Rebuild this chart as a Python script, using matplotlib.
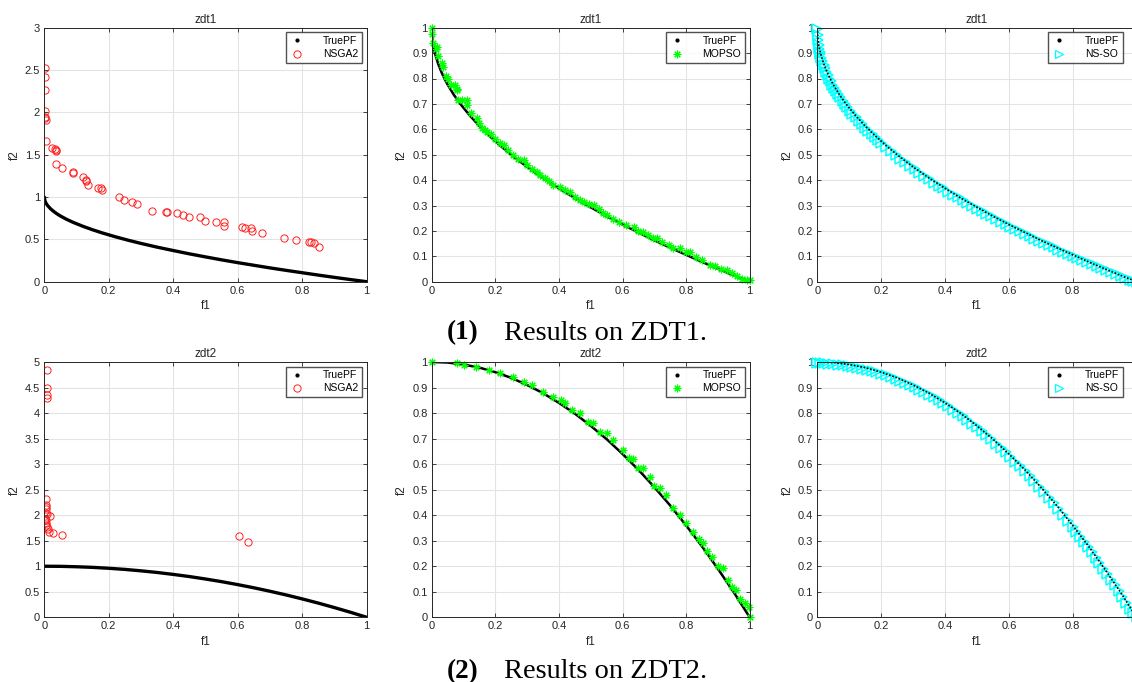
import matplotlib
matplotlib.use("Agg")
import matplotlib.pyplot as plt
from matplotlib.lines import Line2D

plt.rcParams["font.family"] = ["Liberation Sans", "DejaVu Sans"]

# ---------------- data ----------------
# True Pareto fronts
pf1_f1 = [0, 0.002, 0.005, 0.01, 0.02, 0.03, 0.04, 0.05, 0.07, 0.09, 0.12, 0.15, 0.18, 0.22,
          0.26, 0.3, 0.35, 0.4, 0.45, 0.5, 0.55, 0.6, 0.65, 0.7, 0.75, 0.8, 0.85, 0.9, 0.95, 1.0]
pf1_f2 = [1.0, 0.955, 0.929, 0.9, 0.859, 0.827, 0.8, 0.776, 0.735, 0.7, 0.654, 0.613, 0.576, 0.531,
          0.49, 0.452, 0.408, 0.368, 0.329, 0.293, 0.258, 0.225, 0.194, 0.163, 0.134, 0.106, 0.078, 0.051, 0.025, 0.0]
pf2_f1 = [0, 0.05, 0.1, 0.15, 0.2, 0.25, 0.3, 0.35, 0.4, 0.45, 0.5, 0.55, 0.6, 0.65, 0.7,
          0.75, 0.8, 0.85, 0.9, 0.95, 1.0]
pf2_f2 = [1.0, 0.998, 0.99, 0.978, 0.96, 0.938, 0.91, 0.878, 0.84, 0.798, 0.75, 0.698, 0.64,
          0.578, 0.51, 0.438, 0.36, 0.278, 0.19, 0.098, 0.0]

# NSGA2 on ZDT1
nsga_z1_f1 = [0.002, 0.002, 0.002, 0.002, 0.003, 0.003, 0.004, 0.004, 0.025, 0.033, 0.036, 0.037,
              0.037, 0.056, 0.09, 0.09, 0.12, 0.128, 0.13, 0.137, 0.168, 0.177, 0.178, 0.231, 0.246,
              0.273, 0.286, 0.333, 0.378, 0.381, 0.413, 0.43, 0.45, 0.484, 0.498, 0.534, 0.557, 0.557,
              0.612, 0.622, 0.642, 0.643, 0.676, 0.745, 0.78, 0.822, 0.826, 0.836, 0.852]
nsga_z1_f2 = [2.52, 2.42, 2.27, 2.02, 1.95, 1.93, 1.91, 1.66, 1.58, 1.57, 1.55, 1.54,
              1.39, 1.34, 1.29, 1.28, 1.24, 1.20, 1.19, 1.14, 1.11, 1.11, 1.08, 1.00, 0.96,
              0.94, 0.92, 0.84, 0.82, 0.82, 0.81, 0.79, 0.77, 0.77, 0.72, 0.71, 0.70, 0.66,
              0.65, 0.64, 0.63, 0.60, 0.57, 0.52, 0.49, 0.47, 0.47, 0.46, 0.41]

# NSGA2 on ZDT2
nsga_z2_f1 = [0.009, 0.009, 0.009, 0.009, 0.004, 0.004, 0.006, 0.005, 0.004, 0.008, 0.017,
              0.003, 0.005, 0.004, 0.006, 0.007, 0.010, 0.015, 0.028, 0.056, 0.604, 0.633]
nsga_z2_f2 = [4.84, 4.49, 4.35, 4.29, 2.31, 2.19, 2.16, 2.12, 2.05, 2.02, 1.98,
              1.93, 1.90, 1.85, 1.80, 1.76, 1.73, 1.68, 1.65, 1.62, 1.59, 1.48]

# MOPSO on ZDT1
mopso_z1_f1 = [0.0, 0.002, 0.005, 0.012, 0.016, 0.02, 0.031, 0.035, 0.045, 0.052, 0.06, 0.073, 0.078,
               0.081, 0.084, 0.095, 0.112, 0.112, 0.125, 0.142, 0.15, 0.157, 0.168, 0.173, 0.185, 0.2,
               0.215, 0.226, 0.24, 0.257, 0.27, 0.289, 0.3, 0.315, 0.33, 0.341, 0.355, 0.37, 0.383,
               0.404, 0.42, 0.435, 0.45, 0.467, 0.48, 0.495, 0.509, 0.525, 0.54, 0.551, 0.57, 0.59,
               0.61, 0.635, 0.65, 0.666, 0.68, 0.695, 0.708, 0.725, 0.745, 0.76, 0.782, 0.8, 0.813,
               0.83, 0.85, 0.876, 0.89, 0.91, 0.929, 0.945, 0.96, 0.975, 0.99, 1.0]
mopso_z1_f2 = [1.0, 0.975, 0.94, 0.915, 0.925, 0.89, 0.86, 0.845, 0.81, 0.80, 0.775, 0.774, 0.76,
               0.755, 0.715, 0.715, 0.715, 0.695, 0.665, 0.643, 0.625, 0.604, 0.598, 0.59, 0.58, 0.56,
               0.545, 0.538, 0.52, 0.499, 0.485, 0.479, 0.46, 0.445, 0.43, 0.42, 0.41, 0.395, 0.38,
               0.374, 0.36, 0.354, 0.335, 0.322, 0.312, 0.305, 0.302, 0.285, 0.272, 0.262, 0.248, 0.235,
               0.222, 0.217, 0.2, 0.197, 0.183, 0.172, 0.171, 0.155, 0.143, 0.133, 0.131, 0.118, 0.118,
               0.098, 0.085, 0.066, 0.06, 0.05, 0.046, 0.035, 0.022, 0.012, 0.006, 0.005]

# MOPSO on ZDT2
mopso_z2_f1 = [0.0, 0.079, 0.1, 0.14, 0.18, 0.215, 0.257, 0.29, 0.314, 0.351, 0.38, 0.408, 0.419,
               0.44, 0.466, 0.49, 0.508, 0.53, 0.55, 0.571, 0.602, 0.62, 0.634, 0.65, 0.665, 0.686,
               0.7, 0.717, 0.738, 0.76, 0.78, 0.8, 0.822, 0.84, 0.853, 0.865, 0.88, 0.9, 0.916,
               0.932, 0.945, 0.958, 0.97, 0.984, 0.998, 1.0]
mopso_z2_f2 = [1.0, 0.996, 0.99, 0.98, 0.97, 0.958, 0.94, 0.92, 0.91, 0.883, 0.862, 0.85, 0.84,
               0.812, 0.80, 0.765, 0.76, 0.725, 0.72, 0.694, 0.654, 0.625, 0.622, 0.585, 0.583, 0.55,
               0.515, 0.505, 0.479, 0.43, 0.40, 0.37, 0.335, 0.305, 0.29, 0.26, 0.237, 0.2, 0.192,
               0.146, 0.12, 0.107, 0.07, 0.055, 0.042, 0.003]

# NS-SO on ZDT1
nsso_z1_f1 = [0, 0.001, 0.002, 0.004, 0.006, 0.008, 0.01, 0.013, 0.016, 0.02, 0.024, 0.028, 0.032,
              0.037, 0.042, 0.047, 0.053, 0.059, 0.065, 0.072, 0.079, 0.086, 0.094, 0.102, 0.11,
              0.12, 0.13, 0.14, 0.15, 0.16, 0.17, 0.18, 0.19, 0.2, 0.215, 0.23, 0.245, 0.26, 0.275,
              0.29, 0.305, 0.32, 0.335, 0.35, 0.365, 0.38, 0.395, 0.41, 0.425, 0.44, 0.455, 0.47,
              0.485, 0.5, 0.515, 0.53, 0.545, 0.56, 0.575, 0.59, 0.605, 0.62, 0.635, 0.65, 0.665,
              0.68, 0.695, 0.71, 0.725, 0.74, 0.755, 0.77, 0.785, 0.8, 0.815, 0.83, 0.845, 0.86,
              0.875, 0.89, 0.905, 0.92, 0.935, 0.95, 0.965, 0.98, 0.99, 1.0]
nsso_z1_f2 = [0.995, 0.97, 0.95, 0.93, 0.918, 0.905, 0.895, 0.88, 0.868, 0.852, 0.84, 0.826, 0.815,
              0.80, 0.79, 0.776, 0.764, 0.752, 0.738, 0.726, 0.712, 0.70, 0.687, 0.674, 0.662,
              0.648, 0.634, 0.62, 0.607, 0.594, 0.582, 0.57, 0.558, 0.547, 0.53, 0.514, 0.50, 0.484, 0.47,
              0.456, 0.442, 0.429, 0.416, 0.403, 0.39, 0.378, 0.367, 0.355, 0.343, 0.332, 0.32, 0.309,
              0.298, 0.288, 0.277, 0.267, 0.257, 0.247, 0.237, 0.227, 0.217, 0.208, 0.198, 0.189, 0.18,
              0.17, 0.161, 0.152, 0.144, 0.135, 0.126, 0.118, 0.109, 0.101, 0.093, 0.085, 0.077, 0.069,
              0.061, 0.053, 0.045, 0.037, 0.029, 0.021, 0.014, 0.007, 0.003, 0.0]

# NS-SO on ZDT2
nsso_z2_f1 = [0, 0.01, 0.02, 0.035, 0.05, 0.065, 0.08, 0.095, 0.11, 0.125, 0.14, 0.155, 0.17, 0.185,
              0.2, 0.215, 0.23, 0.245, 0.26, 0.275, 0.29, 0.305, 0.32, 0.335, 0.35, 0.365, 0.38,
              0.395, 0.41, 0.425, 0.44, 0.455, 0.47, 0.485, 0.5, 0.515, 0.53, 0.545, 0.56, 0.575,
              0.59, 0.605, 0.62, 0.635, 0.65, 0.665, 0.68, 0.695, 0.71, 0.725, 0.74, 0.755, 0.77,
              0.785, 0.8, 0.812, 0.824, 0.836, 0.848, 0.86, 0.872, 0.884, 0.896, 0.908, 0.92, 0.932,
              0.944, 0.956, 0.968, 0.98, 0.99, 1.0]
nsso_z2_f2 = [0.998, 0.997, 0.996, 0.994, 0.993, 0.99, 0.988, 0.985, 0.982, 0.978, 0.974, 0.97, 0.965,
              0.96, 0.954, 0.948, 0.941, 0.934, 0.926, 0.918, 0.91, 0.901, 0.892, 0.882, 0.872, 0.861,
              0.85, 0.838, 0.826, 0.813, 0.80, 0.787, 0.773, 0.759, 0.744, 0.729, 0.713, 0.697, 0.68,
              0.663, 0.646, 0.628, 0.61, 0.591, 0.572, 0.552, 0.532, 0.511, 0.49, 0.468, 0.446, 0.424,
              0.401, 0.378, 0.354, 0.335, 0.315, 0.295, 0.275, 0.254, 0.234, 0.213, 0.191, 0.17, 0.148,
              0.125, 0.103, 0.08, 0.057, 0.034, 0.015, 0.0]

titles = ["zdt1", "zdt2"]
captions = [("(1)", "Results on ZDT1."), ("(2)", "Results on ZDT2.")]

# ---------------- figure ----------------
W, H = 1132, 682
fig = plt.figure(figsize=(W / 100, H / 100), dpi=100)

axcol = "#262626"
gridc = "#e3e3e3"

def px_axes(x0, y_top, w, h):
    return fig.add_axes([x0 / W, (H - y_top - h) / H, w / W, h / H])

def style(ax, xlim, ylim, xticks, yticks, title):
    ax.set_xlim(*xlim)
    ax.set_ylim(*ylim)
    ax.set_xticks(xticks)
    ax.set_yticks(yticks)
    ax.set_xticklabels([f"{t:g}" for t in xticks])
    ax.set_yticklabels([f"{t:g}" for t in yticks])
    ax.grid(True, color=gridc, lw=0.8)
    ax.set_axisbelow(True)
    ax.tick_params(direction="in", length=3, width=0.6, colors=axcol, labelsize=8,
                   top=True, right=True, pad=3)
    for s in ax.spines.values():
        s.set_color(axcol)
        s.set_linewidth(0.7)
    ax.set_title(title, fontsize=8.5, color=axcol, pad=3.5)
    ax.set_xlabel("f1", fontsize=8.5, color=axcol, labelpad=3)
    ax.set_ylabel("f2", fontsize=8.5, color=axcol, labelpad=3)

rows = [(27.7, 254.0), (362.0, 255.3)]
cols = [(44.3, 322.4), (431.7, 318.0), (817.3, 319.2)]

true_pf = [(pf1_f1, pf1_f2), (pf2_f1, pf2_f2)]
nsga = [(nsga_z1_f1, nsga_z1_f2), (nsga_z2_f1, nsga_z2_f2)]
mopso = [(mopso_z1_f1, mopso_z1_f2), (mopso_z2_f1, mopso_z2_f2)]
nsso = [(nsso_z1_f1, nsso_z1_f2), (nsso_z2_f1, nsso_z2_f2)]

pf_handle = Line2D([], [], color="k", marker=".", ls="none", markersize=4)
asterisk = (8, 2, 0)
leg_kw = dict(loc="upper right", fontsize=7.5, frameon=True, fancybox=False, edgecolor=axcol,
              borderaxespad=0.45, handletextpad=1.8, borderpad=0.35, labelspacing=0.3,
              handlelength=1.4)

for r, (ytop, h) in enumerate(rows):
    # NSGA2
    ax = px_axes(cols[0][0], ytop, cols[0][1], h)
    if r == 0:
        style(ax, (0, 1), (0, 3), [0, 0.2, 0.4, 0.6, 0.8, 1], [0, 0.5, 1, 1.5, 2, 2.5, 3], titles[r])
    else:
        style(ax, (0, 1), (0, 5), [0, 0.2, 0.4, 0.6, 0.8, 1],
              [0, 0.5, 1, 1.5, 2, 2.5, 3, 3.5, 4, 4.5, 5], titles[r])
    ax.plot(*true_pf[r], color="k", lw=2.4, solid_capstyle="round")
    ax.plot(*nsga[r], ls="none", marker="o", mfc="none", mec="#ff2020", mew=0.7, markersize=5.2)
    h2 = Line2D([], [], ls="none", marker="o", mfc="none", mec="#ff2020", mew=0.7, markersize=5.2)
    ax.legend([pf_handle, h2], ["TruePF", "NSGA2"], **leg_kw)

    # MOPSO
    ax = px_axes(cols[1][0], ytop, cols[1][1], h)
    ticks = [0, 0.1, 0.2, 0.3, 0.4, 0.5, 0.6, 0.7, 0.8, 0.9, 1]
    style(ax, (0, 1), (0, 1), [0, 0.2, 0.4, 0.6, 0.8, 1], ticks, titles[r])
    ax.plot(*true_pf[r], color="k", lw=1.8)
    ax.plot(*mopso[r], ls="none", marker=asterisk, color="#00ff00", mew=0.8, markersize=5.5,
            clip_on=False)
    h2 = Line2D([], [], ls="none", marker=asterisk, color="#00ff00", mew=0.8, markersize=5.5)
    ax.legend([pf_handle, h2], ["TruePF", "MOPSO"], **leg_kw)

    # NS-SO (panel runs past the right edge of the figure, as in the reference)
    ax = px_axes(cols[2][0], ytop, cols[2][1], h)
    style(ax, (0, 1), (0, 1), [0, 0.2, 0.4, 0.6, 0.8], ticks, titles[r])
    ax.plot(*nsso[r], ls="none", marker=">", mfc="none", mec="#00ffff", mew=1.1, markersize=6.5,
            clip_on=False)
    ax.plot(*true_pf[r], color="k", lw=1.2, ls=(0, (1, 1)))
    h2 = Line2D([], [], ls="none", marker=">", mfc="none", mec="#00ffff", mew=0.9, markersize=5.5)
    leg = ax.legend([pf_handle, h2], ["TruePF", "NS-SO"], **leg_kw)
    leg.set_bbox_to_anchor((1.0 - 9.0 / cols[2][1], 1.0), transform=ax.transAxes)

# captions
cap_base = [339.5, 678.0]
for (num, txt), yb in zip(captions, cap_base):
    fig.text(447.0 / W, (H - yb) / H, num, fontsize=19.5, fontweight="bold",
             family="Liberation Serif", va="baseline", ha="left")
    fig.text(504.0 / W, (H - yb) / H, txt, fontsize=20.5,
             family="Liberation Serif", va="baseline", ha="left")

fig.savefig("out.png", dpi=100)
